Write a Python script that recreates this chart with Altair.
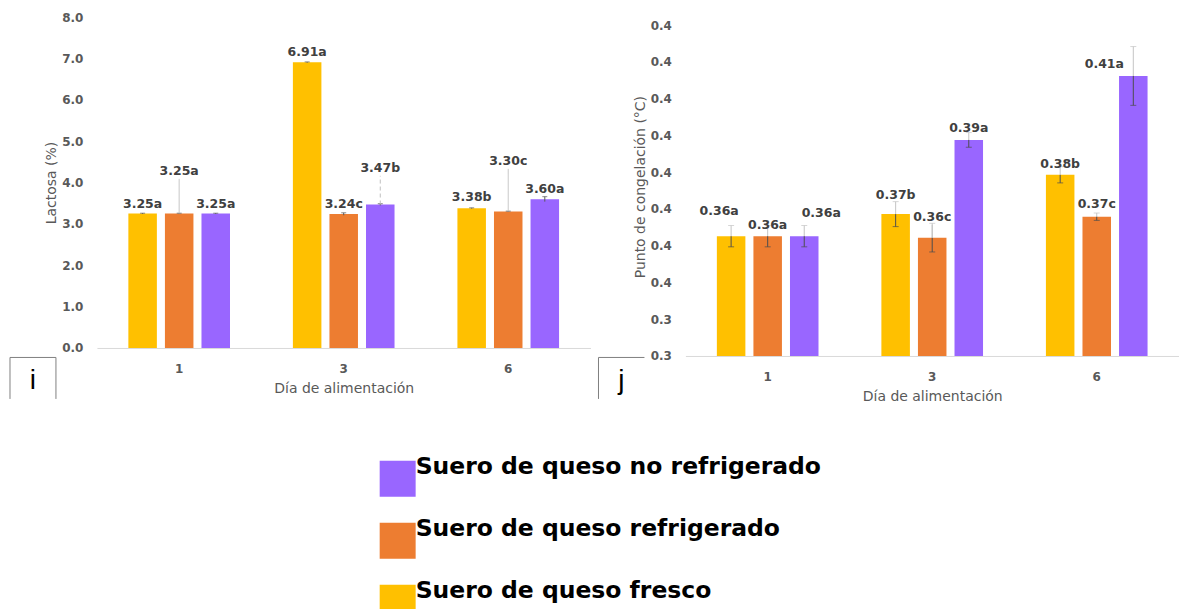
import altair as alt
import pandas as pd

# ---------------------------------------------------------------- data
dias = ["1", "3", "6"]
series = [
    "Suero de queso fresco",
    "Suero de queso refrigerado",
    "Suero de queso no refrigerado",
]
orden_leyenda = [
    "Suero de queso no refrigerado",
    "Suero de queso refrigerado",
    "Suero de queso fresco",
]
colores = ["#9966FF", "#ED7D31", "#FFC000"]  # same order as orden_leyenda

# Lactosa (%)
lactosa_fresco = [3.25, 6.91, 3.38]
lactosa_refrigerado = [3.25, 3.24, 3.30]
lactosa_no_refrigerado = [3.25, 3.47, 3.60]
lactosa_err_fresco = [0.01, 0.01, 0.01]
lactosa_err_refrigerado = [0.01, 0.03, 0.01]
lactosa_err_no_refrigerado = [0.01, 0.02, 0.06]
lactosa_letras_fresco = ["a", "a", "b"]
lactosa_letras_refrigerado = ["a", "c", "c"]
lactosa_letras_no_refrigerado = ["a", "b", "a"]

# Punto de congelación (°C)
congel_fresco = [0.3626, 0.3686, 0.3793]
congel_refrigerado = [0.3626, 0.3622, 0.3679]
congel_no_refrigerado = [0.3626, 0.3888, 0.4062]
congel_err_fresco = [0.0029, 0.0034, 0.0022]
congel_err_refrigerado = [0.0029, 0.0039, 0.0010]
congel_err_no_refrigerado = [0.0029, 0.0020, 0.0080]
congel_letras_fresco = ["a", "b", "b"]
congel_letras_refrigerado = ["a", "c", "c"]
congel_letras_no_refrigerado = ["a", "a", "a"]

lactosa_ticks = [0, 1, 2, 3, 4, 5, 6, 7, 8]
congel_ticks = [0.33, 0.34, 0.35, 0.36, 0.37, 0.38, 0.39, 0.40, 0.41, 0.42]
congel_tick_labels = ["0.3", "0.3", "0.4", "0.4", "0.4", "0.4", "0.4", "0.4", "0.4", "0.4"]

# ---------------------------------------------------------------- layout
FONT = "DejaVu Sans"
GRIS = "#595959"
PANEL_W = 494
LACT_H = 331
CONG_H = 339
LACT_DOMAIN = [0, 8]
CONG_DOMAIN = [0.33, 0.42 + 8 / (331 / 0.09)]

# label height above the bar top (px) and horizontal shift (px), per series/day
lact_lift = [[6, 6, 7.3], [38.8, 6.3, 46.7], [6, 32.7, 6.3]]
lact_dx = [[0, 0, 0], [0, 0, 0], [0, 0, 0]]
lact_dash = [[0, 0, 0], [0, 0, 0], [0, 1, 0]]
cong_lift = [[21, 14.7, 7.3], [6.7, 16.7, 8.4], [19.3, 7.6, 7.7]]
cong_dx = [[-12, 0, 0], [0, 0, 0], [17, 0, -29]]
cong_dash = [[0, 0, 0], [0, 0, 0], [0, 0, 0]]


def panel_frame(valores, errores, letras, lifts, dxs, dashes, px_per_unit):
    filas = []
    for s, vals, errs, lets, lfs, dx_s, ds in zip(series, valores, errores, letras, lifts, dxs, dashes):
        for d, v, e, l, lf, dx, dash in zip(dias, vals, errs, lets, lfs, dx_s, ds):
            filas.append(
                dict(
                    dia=d, serie=s, valor=v, lo=v - e, hi=v + e, letra=l,
                    label_y=v + lf / px_per_unit,
                    leader_top=v + (lf - 4) / px_per_unit,
                    leader=lf > 15 and dx == 0,
                    estilo="dashed" if dash else "solid",
                    dx=dx,
                )
            )
    return pd.DataFrame(filas)


lact_df = panel_frame(
    [lactosa_fresco, lactosa_refrigerado, lactosa_no_refrigerado],
    [lactosa_err_fresco, lactosa_err_refrigerado, lactosa_err_no_refrigerado],
    [lactosa_letras_fresco, lactosa_letras_refrigerado, lactosa_letras_no_refrigerado],
    lact_lift, lact_dx, lact_dash, LACT_H / (LACT_DOMAIN[1] - LACT_DOMAIN[0]),
)
cong_df = panel_frame(
    [congel_fresco, congel_refrigerado, congel_no_refrigerado],
    [congel_err_fresco, congel_err_refrigerado, congel_err_no_refrigerado],
    [congel_letras_fresco, congel_letras_refrigerado, congel_letras_no_refrigerado],
    cong_lift, cong_dx, cong_dash, CONG_H / (CONG_DOMAIN[1] - CONG_DOMAIN[0]),
)

x_enc = alt.X(
    "dia:N", sort=dias, title="Día de alimentación",
    scale=alt.Scale(paddingInner=0, paddingOuter=0),
    axis=alt.Axis(labelAngle=0),
)
xo_enc = alt.XOffset("serie:N", sort=series, scale=alt.Scale(paddingInner=0.22, paddingOuter=0.86))
color_enc = alt.Color(
    "serie:N",
    scale=alt.Scale(domain=orden_leyenda, range=colores),
    legend=alt.Legend(
        title=None, orient="none", legendX=283, legendY=444,
        direction="vertical", symbolType="square", symbolSize=1296,
        symbolStrokeWidth=0, symbolOpacity=1, labelFont=FONT, labelFontSize=23.5,
        labelFontWeight="bold", labelColor="black", labelLimit=0,
        rowPadding=20, labelOffset=0, labelBaseline="bottom", padding=0,
    ),
)


def panel(df, y_title, domain, height, axis_kw, light_upper):
    base = alt.Chart(df).encode(x=x_enc, xOffset=xo_enc)
    y_scale = alt.Scale(domain=domain, nice=False, zero=False)
    bars = base.mark_bar(clip=True).encode(
        y=alt.Y("valor:Q", title=y_title, scale=y_scale, axis=alt.Axis(labelOverlap=False, **axis_kw)),
        y2=alt.datum(domain[0]),
        color=color_enc,
    )
    capas = [bars]
    if light_upper:
        capas += [
            base.mark_rule(color="#c4c4c4", strokeWidth=1).encode(y="valor:Q", y2="hi:Q"),
            base.mark_rule(color="#4d4d4d", strokeWidth=1).encode(y="lo:Q", y2="valor:Q"),
            base.mark_tick(color="#c4c4c4", size=6, thickness=1).encode(y="hi:Q"),
            base.mark_tick(color="#4d4d4d", size=6, thickness=1).encode(y="lo:Q"),
        ]
    else:
        capas += [
            base.mark_rule(color="#595959", strokeWidth=1).encode(y="lo:Q", y2="hi:Q"),
            base.mark_tick(color="#595959", size=5, thickness=1).encode(y="hi:Q"),
        ]
    capas.append(
        base.mark_rule(color="#bfbfbf", strokeWidth=1)
        .encode(
            y="valor:Q", y2="leader_top:Q",
            strokeDash=alt.StrokeDash(
                "estilo:N",
                scale=alt.Scale(domain=["solid", "dashed"], range=[[1, 0], [4, 3]]),
                legend=None,
            ),
        )
        .transform_filter("datum.leader")
    )
    for dx in sorted(set(df["dx"])):
        capas.append(
            base.mark_text(
                font=FONT, fontSize=12.5, fontWeight="bold", color="#404040",
                baseline="alphabetic", dx=float(dx),
            )
            .encode(y="label_y:Q", text="texto:N")
            .transform_calculate(texto="format(datum.valor, '.2f') + datum.letra")
            .transform_filter(f"datum.dx == {dx}")
        )
    return alt.layer(*capas).properties(width=PANEL_W, height=height)


def marco(letra, right_side):
    uno = pd.DataFrame({"t": [letra]})
    c = alt.Chart(uno)
    capas = [
        c.mark_rule(color="#7f7f7f", strokeWidth=1).encode(x=alt.value(-87), x2=alt.value(-41), y=alt.value(340.5)),
        c.mark_rule(color="#7f7f7f", strokeWidth=1).encode(x=alt.value(-87), y=alt.value(340.5), y2=alt.value(382)),
        c.mark_text(font="Liberation Sans", fontSize=28, color="black", baseline="alphabetic")
        .encode(x=alt.value(-64), y=alt.value(372), text="t:N"),
    ]
    if right_side:
        capas.append(
            c.mark_rule(color="#7f7f7f", strokeWidth=1).encode(x=alt.value(-41), y=alt.value(340.5), y2=alt.value(382))
        )
    return capas


lact_axis = dict(values=lactosa_ticks, tickCount=len(lactosa_ticks), format=".1f")
cong_label_expr = (
    "[" + ",".join(f"'{t}'" for t in congel_tick_labels) + "]"
    + f"[round((datum.value - {congel_ticks[0]}) * 100)]"
)
cong_axis = dict(values=congel_ticks, tickCount=len(congel_ticks), labelExpr=cong_label_expr)

izq = alt.layer(
    panel(lact_df, "Lactosa (%)", LACT_DOMAIN, LACT_H, lact_axis, False),
    *marco("i", True),
)
der = alt.layer(
    panel(cong_df, "Punto de congelación (°C)", CONG_DOMAIN, CONG_H, cong_axis, True),
    *marco("j", False),
)

chart = (
    alt.hconcat(izq, der, spacing=95, bounds="flush")
    .properties(padding={"left": 9, "top": 11, "right": 0, "bottom": 0})
    .configure_view(stroke=None)
    .configure_axis(
        grid=False, ticks=False, labelOverlap=False,
        labelFont=FONT, labelFontSize=12, labelFontWeight="bold", labelColor=GRIS,
        titleFont=FONT, titleFontSize=14, titleFontWeight="normal", titleColor=GRIS,
    )
    .configure_axisX(domainColor="#d9d9d9", domainWidth=1, labelPadding=16, titlePadding=7)
    .configure_axisY(domain=False, labelPadding=14, titlePadding=3)
)

chart.save("out.html", embed_options={"renderer": "svg", "actions": False})
